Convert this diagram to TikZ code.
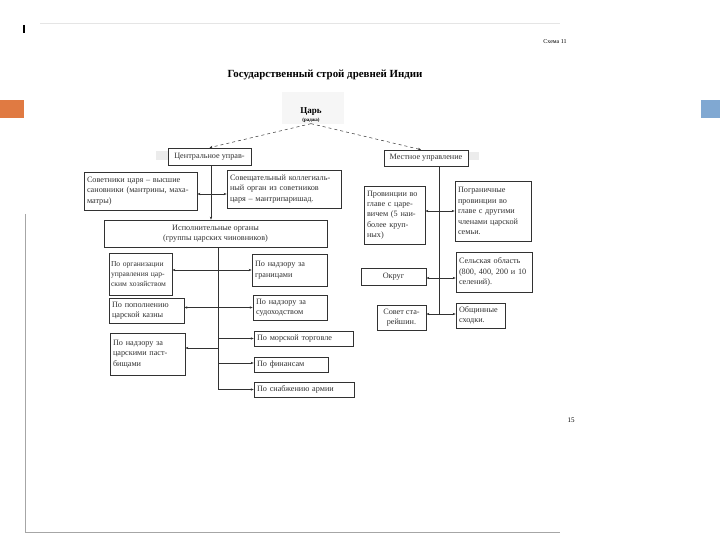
\documentclass[tikz,border=0pt]{standalone}
\usepackage{fontspec}
\setmainfont{Liberation Serif}
\usetikzlibrary{arrows.meta, positioning, calc}
\definecolor{SlideOrange}{RGB}{224,122,66}
\definecolor{SlideBlue}{RGB}{128,168,210}
\definecolor{ScanGray}{RGB}{50,50,50}

\begin{document}
\begin{tikzpicture}[x=1pt, y=-1pt,
    box/.style={draw=ScanGray, line width=0.7pt, inner xsep=3pt, inner ysep=2pt,
      font=\fontsize{8.2}{10.4}\selectfont, align=left, text=ScanGray},
    cbox/.style={box, align=center},
    link/.style={line width=0.5pt, draw=ScanGray, -{Stealth[length=3pt,width=2.4pt]}},
    dlink/.style={link, {Stealth[length=3pt,width=2.4pt]}-{Stealth[length=3pt,width=2.4pt]}},
    trunk/.style={line width=0.5pt, draw=ScanGray}]
  \useasboundingbox (0,0) rectangle (720,540);

  % slide frame and scan edges
  \fill[SlideOrange] (0,100) rectangle (24,118);
  \fill[SlideBlue] (701,100) rectangle (720,118);
  \draw[gray!70, line width=0.6pt] (25,214) -- (25,532) -- (560,532);
  \draw[gray!20] (40,23) -- (560,23);
  \draw[line width=1.3pt] (24,25) -- (24,33);
  \fill[gray!7] (282,92) rectangle (344,124);
  \fill[gray!15] (156,151) rectangle (168,160);
  \fill[gray!15] (468,152) rectangle (479,160);

  \node[font=\fontsize{6}{7}\selectfont] (scheme) at (555,42) {Схема 11};
  \node[font=\fontsize{7}{8}\selectfont] (page) at (571,420) {15};
  \node[font=\bfseries\fontsize{10.9}{13}\selectfont] (title) at (325,75)
    {Государственный строй древней Индии};
  \node[align=center, font=\bfseries\fontsize{9}{9}\selectfont, inner sep=1pt] (tsar) at (311,115)
    {Царь\\[-1pt]{\fontsize{5}{5}\selectfont (раджа)}};

  % central government
  \node[cbox, minimum width=83pt, minimum height=17pt] (cu) at (209.5,156.5) {Центральное управ-};
  \node[box, text width=107pt, minimum height=38pt] (sov) at (140.5,191)
    {Советники царя – высшие\\сановники (мантрины, маха-\\матры)};
  \node[box, text width=108pt, minimum height=38pt] (mp) at (284,189)
    {Совещательный коллегиаль-\\ный орган из советников\\царя – мантрипаришад.};
  \node[cbox, minimum width=223pt, minimum height=27pt] (iso) at (215.5,233.5)
    {Исполнительные органы\\(группы царских чиновников)};
  \node[box, inner xsep=2pt, text width=59pt, minimum height=42pt,
        font=\fontsize{7.6}{10.4}\selectfont] (org) at (140.5,274)
    {По организации\\управления цар-\\ским хозяйством};
  \node[box, text width=69pt, minimum height=25pt] (kazna) at (146.5,310.5)
    {По пополнению\\царской казны};
  \node[box, text width=69pt, minimum height=42pt] (past) at (147.5,354)
    {По надзору за\\царскими паст-\\бищами};
  \node[box, text width=69pt, minimum height=32pt] (gran) at (289.5,270)
    {По надзору за\\границами};
  \node[box, text width=68pt, minimum height=25pt] (sud) at (290,307.5)
    {По надзору за\\судоходством};
  \node[box, text width=93pt, minimum height=15pt] (mor) at (303.5,338.5) {По морской торговле};
  \node[box, text width=68pt, minimum height=15pt] (fin) at (291,364.5) {По финансам};
  \node[box, text width=94pt, minimum height=15pt] (arm) at (304,389.5) {По снабжению армии};

  % local government
  \node[cbox, minimum width=84pt, minimum height=16pt] (mu) at (426,158) {Местное управление};
  \node[box, text width=55pt, minimum height=58pt] (prov) at (394.5,215)
    {Провинции во\\главе с царе-\\вичем (5 наи-\\более круп-\\ных)};
  \node[box, text width=70pt, minimum height=60pt] (pogr) at (493,211)
    {Пограничные\\провинции во\\главе с другими\\членами царской\\семьи.};
  \node[cbox, minimum width=65pt, minimum height=17pt] (okrug) at (393.5,276.5) {Округ};
  \node[box, text width=70pt, minimum height=40pt] (selo) at (494,272)
    {Сельская область\\(800, 400, 200 и 10\\селений).};
  \node[cbox, minimum width=49pt, minimum height=25pt] (sovst) at (401.5,317.5)
    {Совет ста-\\рейшин.};
  \node[box, text width=43pt, minimum height=25pt] (shod) at (480.5,315.5)
    {Общинные\\сходки.};

  % trunk lines and rows
  \coordinate (ltrunk) at (211,0);
  \coordinate (etrunk) at (218.5,0);
  \coordinate (rtrunk) at (439,0);
  \coordinate (crow) at (0,194);
  \coordinate (pastrow) at (0,348);
  \coordinate (finrow) at (0,363);
  \coordinate (provrow) at (0,211);
  \coordinate (okrow) at (0,278);
  \coordinate (strow) at (0,314);

  \draw[link, dashed] (tsar.south) -- (cu.north);
  \draw[link, dashed] (tsar.south) -- ($(mu.north)+(-5,0)$);

  \draw[link] (cu.south -| ltrunk) -- (iso.north -| ltrunk);
  \draw[dlink] (sov.east |- crow) -- (mp.west |- crow);

  \draw[link] (iso.south -| etrunk) |- (arm.west);
  \draw[dlink] (org.east |- gran.west) -- (gran.west);
  \draw[dlink] (kazna.east |- sud.west) -- (sud.west);
  \draw[link] (etrunk |- pastrow) -- (past.east |- pastrow);
  \draw[link] (etrunk |- mor.west) -- (mor.west);
  \draw[link] (etrunk |- finrow) -- (fin.west |- finrow);

  \draw[trunk] (mu.south -| rtrunk) -- (rtrunk |- strow);
  \draw[dlink] (prov.east |- provrow) -- (pogr.west |- provrow);
  \draw[dlink] (okrug.east |- okrow) -- (selo.west |- okrow);
  \draw[dlink] (sovst.east |- strow) -- (shod.west |- strow);
\end{tikzpicture}
\end{document}
